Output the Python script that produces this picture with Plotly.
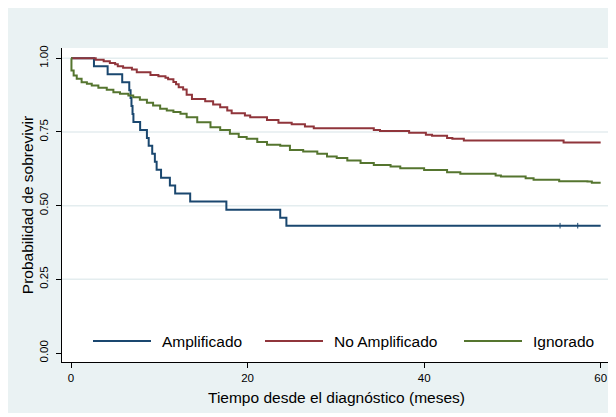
import plotly.graph_objects as go

# ---------------- data ----------------
amp_t = [0, 2.6, 4.15, 5.8, 6.6, 6.75, 6.85, 6.97, 7.07, 7.83, 8.6, 8.8, 9.2, 9.5, 9.7,
         10.2, 11.2, 11.8, 13.5, 17.6, 23.7, 24.4, 60]
amp_s = [1.0, 0.973, 0.946, 0.919, 0.892, 0.865, 0.838, 0.811, 0.784, 0.757, 0.730, 0.703,
         0.676, 0.649, 0.622, 0.595, 0.568, 0.541, 0.514, 0.486, 0.459, 0.432, 0.432]
amp_cens_t = [55.4, 57.4]

noamp_t = [0, 2.8, 3.7, 4.4, 5.0, 5.3, 5.9, 6.9, 7.45, 9.0, 9.9, 10.7, 11.0, 11.6, 11.9,
           12.2, 12.7, 13.1, 13.7, 15.2, 16.1, 16.9, 17.7, 18.2, 19.7, 20.3, 22.2, 23.5,
           25.0, 26.5, 27.5, 34.3, 35.0, 38.3, 40.2, 40.9, 42.6, 43.2, 44.5, 55.8, 60]
noamp_s = [1.0, 0.995, 0.990, 0.984, 0.980, 0.973, 0.968, 0.962, 0.953, 0.943, 0.939, 0.934,
           0.929, 0.920, 0.912, 0.902, 0.894, 0.876, 0.862, 0.854, 0.843, 0.834, 0.823,
           0.814, 0.806, 0.800, 0.791, 0.781, 0.776, 0.769, 0.763, 0.757, 0.753, 0.747,
           0.741, 0.737, 0.730, 0.727, 0.721, 0.714, 0.714]

ign_t = [0, 0.05, 0.3, 0.65, 1.2, 1.8, 2.35, 3.1, 4.05, 4.8, 5.55, 6.5, 7.05, 7.8, 8.6,
         9.3, 10.1, 10.85, 11.6, 12.4, 13.1, 14.3, 15.8, 16.9, 18.0, 19.0, 19.9, 21.1,
         22.2, 23.7, 24.8, 26.3, 27.9, 29.0, 30.1, 31.3, 32.8, 34.3, 36.2, 37.3, 40.0,
         42.6, 44.1, 48.1, 48.7, 51.5, 52.4, 55.3, 58.5, 59.0, 60]
ign_s = [1.0, 0.959, 0.942, 0.931, 0.919, 0.914, 0.908, 0.900, 0.893, 0.885, 0.880, 0.874,
         0.868, 0.859, 0.849, 0.840, 0.829, 0.823, 0.818, 0.812, 0.800, 0.783, 0.766,
         0.757, 0.744, 0.733, 0.727, 0.716, 0.707, 0.703, 0.689, 0.684, 0.676, 0.667,
         0.662, 0.653, 0.645, 0.638, 0.633, 0.627, 0.621, 0.613, 0.608, 0.602, 0.599,
         0.593, 0.588, 0.583, 0.582, 0.578, 0.578]

series_names = ["Amplificado", "No Amplificado", "Ignorado"]
series_colors = ["#1a476f", "#90353b", "#55752f"]

x_ticks = [0, 20, 40, 60]
y_ticks = [0.0, 0.25, 0.50, 0.75, 1.00]
y_ticklabels = ["0.00", "0.25", "0.50", "0.75", "1.00"]
y_grid = [0.25, 0.50, 0.75, 1.00]

x_title = "Tiempo desde el diagnóstico (meses)"
y_title = "Probabilidad de sobrevivir"

# ---------------- figure ----------------
# page body has an 8px margin, so the figure starts at (8, 8) on screen
W, H = 608, 405
ML, MR, MT, MB = 54, 5, 40, 51
PW, PH = W - ML - MR, H - MT - MB
OFF = 8
FONT = "Liberation Sans, Arial, sans-serif"
OUTER_BG = "#eaf2f3"
GRID = "#e4edef"


def px_to_paper_x(px):  # screen px -> paper
    return (px - OFF - ML) / PW


def px_to_paper_y(py):
    return (H - MB - (py - OFF)) / PH


fig = go.Figure()

for t, s, name, col in zip([amp_t, noamp_t, ign_t], [amp_s, noamp_s, ign_s],
                           series_names, series_colors):
    fig.add_trace(go.Scatter(x=t, y=s, mode="lines", name=name,
                             line=dict(color=col, width=2, shape="hv"),
                             showlegend=False, hoverinfo="skip"))

# censoring marks on the Amplificado curve
fig.add_trace(go.Scatter(x=amp_cens_t, y=[amp_s[-1]] * len(amp_cens_t), mode="markers",
                         marker=dict(symbol="line-ns", size=4,
                                     line=dict(color=series_colors[0], width=1)),
                         showlegend=False, hoverinfo="skip"))

shapes = []
# inner plot region
shapes.append(dict(type="rect", xref="paper", yref="paper", layer="below",
                   x0=0, x1=1, y0=0, y1=1, fillcolor="white", line=dict(width=0)))
# gridlines
for g in y_grid:
    shapes.append(dict(type="line", xref="paper", yref="y", layer="below",
                       x0=0, x1=1, y0=g, y1=g, line=dict(color=GRID, width=1.5)))

# legend (drawn manually to mimic long Stata key lines)
leg_line_x0 = [93, 265, 464]
leg_line_len = 58
leg_y = 341
annotations = []
for name, col, lx in zip(series_names, series_colors, leg_line_x0):
    shapes.append(dict(type="line", xref="paper", yref="paper",
                       x0=px_to_paper_x(lx), x1=px_to_paper_x(lx + leg_line_len),
                       y0=px_to_paper_y(leg_y), y1=px_to_paper_y(leg_y),
                       line=dict(color=col, width=2)))
    annotations.append(dict(xref="paper", yref="paper",
                            x=px_to_paper_x(lx + leg_line_len + 9), y=px_to_paper_y(leg_y),
                            xanchor="left", yanchor="middle", showarrow=False,
                            text=name, font=dict(family=FONT, size=15.5, color="black")))

fig.update_layout(
    width=W, height=H,
    margin=dict(l=ML, r=MR, t=MT, b=MB),
    paper_bgcolor=OUTER_BG,
    plot_bgcolor="white",
    font=dict(family=FONT, color="black"),
    shapes=shapes,
    annotations=annotations,
    showlegend=False,
)

fig.update_xaxes(
    range=[-1.02, 61.17],
    tickvals=x_ticks, ticktext=[str(v) for v in x_ticks],
    ticks="outside", ticklen=5, tickwidth=1, tickcolor="black",
    showline=True, linecolor="black", linewidth=1,
    showgrid=False, zeroline=False,
    tickfont=dict(family=FONT, size=11.5, color="black"),
    title=dict(text=x_title, font=dict(family=FONT, size=15.5, color="black"), standoff=9),
)

fig.update_yaxes(
    range=[-0.0305, 1.035],
    tickvals=y_ticks, ticktext=y_ticklabels, tickangle=-90,
    ticks="outside", ticklen=5, tickwidth=1, tickcolor="black",
    ticklabelstandoff=3,
    showline=True, linecolor="black", linewidth=1,
    showgrid=False, zeroline=False,
    tickfont=dict(family=FONT, size=11.5, color="black"),
    title=dict(text=y_title, font=dict(family=FONT, size=15.5, color="black"), standoff=0),
)

fig.write_html("out.html")
